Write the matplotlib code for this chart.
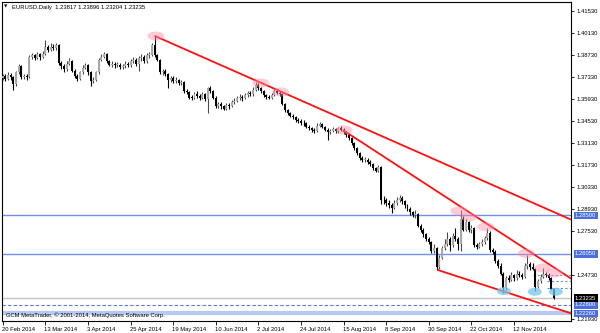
import matplotlib
matplotlib.use("Agg")
import matplotlib.pyplot as plt
from matplotlib.patches import Ellipse
import matplotlib.transforms as mtransforms

# ---------------- data ----------------
closes = [
 1.3735,1.3720,1.3745,1.3730,1.3685,1.3760,1.3800,1.3730,1.3735,1.3730,
 1.3860,1.3870,1.3855,1.3875,1.3860,1.3880,1.3920,1.3905,1.3925,1.3915,
 1.3935,1.3820,1.3800,1.3780,1.3815,1.3830,1.3770,1.3740,1.3720,1.3760,
 1.3790,1.3805,1.3760,1.3705,1.3715,1.3760,1.3840,1.3860,1.3875,1.3830,
 1.3810,1.3815,1.3805,1.3810,1.3795,1.3800,1.3815,1.3805,1.3830,1.3840,
 1.3815,1.3850,1.3860,1.3830,1.3870,1.3870,1.3935,1.3870,1.3840,1.3760,
 1.3770,1.3750,1.3710,1.3725,1.3705,1.3710,1.3690,1.3700,1.3640,1.3635,
 1.3600,1.3595,1.3625,1.3610,1.3595,1.3620,1.3590,1.3660,1.3640,1.3600,
 1.3545,1.3560,1.3545,1.3530,1.3555,1.3545,1.3570,1.3580,1.3595,1.3605,
 1.3595,1.3615,1.3630,1.3620,1.3650,1.3680,1.3660,1.3640,1.3615,1.3605,
 1.3600,1.3615,1.3640,1.3630,1.3620,1.3560,1.3520,1.3500,1.3485,1.3475,
 1.3455,1.3450,1.3440,1.3435,1.3415,1.3405,1.3395,1.3385,1.3420,1.3430,
 1.3415,1.3395,1.3380,1.3390,1.3400,1.3385,1.3405,1.3395,1.3380,1.3360,
 1.3340,1.3310,1.3280,1.3245,1.3215,1.3200,1.3205,1.3190,1.3175,1.3150,
 1.3135,1.3155,1.2950,1.2945,1.2930,1.2915,1.2900,1.2930,1.2950,1.2960,
 1.2940,1.2915,1.2890,1.2870,1.2850,1.2860,1.2785,1.2760,1.2730,1.2700,
 1.2680,1.2625,1.2645,1.2520,1.2580,1.2640,1.2665,1.2700,1.2660,1.2720,
 1.2700,1.2665,1.2830,1.2760,1.2805,1.2755,1.2770,1.2660,1.2650,1.2665,
 1.2680,1.2705,1.2740,1.2630,1.2620,1.2560,1.2530,1.2480,1.2385,1.2450,
 1.2440,1.2470,1.2450,1.2480,1.2470,1.2460,1.2530,1.2540,1.2520,1.2510,
 1.2395,1.2430,1.2460,1.2480,1.2470,1.2450,1.23817,1.23235]

highs = [
 1.3750,1.3748,1.3760,1.3755,1.3740,1.3772,1.3814,1.3808,1.3750,1.3748,
 1.3870,1.3885,1.3880,1.3888,1.3885,1.3895,1.3967,1.3935,1.3945,1.3940,
 1.3945,1.3940,1.3835,1.3812,1.3830,1.3850,1.3838,1.3780,1.3752,1.3770,
 1.3805,1.3818,1.3812,1.3768,1.3730,1.3772,1.3852,1.3875,1.3892,1.3882,
 1.3842,1.3830,1.3825,1.3828,1.3820,1.3815,1.3830,1.3825,1.3845,1.3858,
 1.3850,1.3865,1.3878,1.3870,1.3885,1.3890,1.3950,1.3993,1.3880,1.3845,
 1.3785,1.3780,1.3758,1.3740,1.3735,1.3728,1.3720,1.3715,1.3705,1.3655,
 1.3645,1.3615,1.3638,1.3640,1.3620,1.3635,1.3630,1.3669,1.3676,1.3648,
 1.3608,1.3575,1.3570,1.3555,1.3568,1.3565,1.3585,1.3598,1.3610,1.3620,
 1.3615,1.3630,1.3645,1.3640,1.3668,1.3700,1.3690,1.3670,1.3648,1.3625,
 1.3618,1.3630,1.3660,1.3655,1.3645,1.3628,1.3568,1.3528,1.3510,1.3495,
 1.3485,1.3470,1.3462,1.3455,1.3445,1.3428,1.3415,1.3405,1.3435,1.3445,
 1.3440,1.3422,1.3405,1.3402,1.3412,1.3408,1.3415,1.3420,1.3405,1.3390,
 1.3368,1.3348,1.3318,1.3288,1.3252,1.3228,1.3222,1.3215,1.3200,1.3185,
 1.3160,1.3170,1.3162,1.2975,1.2960,1.2945,1.2930,1.2948,1.2965,1.2978,
 1.2972,1.2950,1.2925,1.2902,1.2880,1.2885,1.2868,1.2795,1.2770,1.2740,
 1.2712,1.2690,1.2665,1.2650,1.2595,1.2655,1.2700,1.2745,1.2710,1.2735,
 1.2770,1.2710,1.2887,1.2845,1.2830,1.2815,1.2790,1.2778,1.2675,1.2680,
 1.2700,1.2720,1.2770,1.2748,1.2645,1.2628,1.2570,1.2545,1.2490,1.2465,
 1.2470,1.2490,1.2480,1.2500,1.2495,1.2485,1.2545,1.2600,1.2555,1.2545,
 1.2518,1.2445,1.2475,1.2518,1.2490,1.2482,1.2460,1.23896]

lows = [
 1.3710,1.3705,1.3712,1.3715,1.3648,1.3675,1.3750,1.3720,1.3718,1.3712,
 1.3725,1.3845,1.3840,1.3845,1.3842,1.3850,1.3870,1.3890,1.3895,1.3900,
 1.3905,1.3810,1.3785,1.3765,1.3770,1.3805,1.3760,1.3725,1.3705,1.3712,
 1.3750,1.3780,1.3745,1.3674,1.3690,1.3705,1.3752,1.3830,1.3850,1.3820,
 1.3798,1.3795,1.3790,1.3792,1.3780,1.3782,1.3790,1.3792,1.3795,1.3818,
 1.3800,1.3772,1.3835,1.3818,1.3822,1.3855,1.3862,1.3860,1.3830,1.3750,
 1.3745,1.3738,1.3662,1.3700,1.3690,1.3692,1.3680,1.3680,1.3630,1.3620,
 1.3590,1.3585,1.3588,1.3598,1.3585,1.3588,1.3580,1.3503,1.3630,1.3590,
 1.3535,1.3535,1.3530,1.3520,1.3522,1.3530,1.3538,1.3560,1.3570,1.3585,
 1.3580,1.3588,1.3605,1.3610,1.3612,1.3642,1.3650,1.3628,1.3605,1.3592,
 1.3590,1.3592,1.3608,1.3620,1.3610,1.3550,1.3510,1.3488,1.3475,1.3462,
 1.3445,1.3440,1.3428,1.3422,1.3405,1.3392,1.3382,1.3375,1.3378,1.3410,
 1.3405,1.3385,1.3333,1.3368,1.3378,1.3372,1.3375,1.3385,1.3370,1.3350,
 1.3328,1.3298,1.3268,1.3232,1.3205,1.3188,1.3190,1.3178,1.3162,1.3140,
 1.3125,1.3128,1.2920,1.2925,1.2910,1.2895,1.2865,1.2890,1.2915,1.2935,
 1.2925,1.2900,1.2875,1.2855,1.2838,1.2835,1.2775,1.2745,1.2715,1.2688,
 1.2665,1.2610,1.2612,1.2501,1.2510,1.2570,1.2630,1.2655,1.2625,1.2650,
 1.2690,1.2630,1.2624,1.2750,1.2750,1.2745,1.2740,1.2648,1.2635,1.2640,
 1.2655,1.2670,1.2695,1.2620,1.2605,1.2548,1.2515,1.2470,1.2358,1.2375,
 1.2425,1.2430,1.2435,1.2440,1.2455,1.2445,1.2450,1.2510,1.2505,1.2500,
 1.2370,1.2385,1.2420,1.2450,1.2455,1.2440,1.2375,1.23204]

first_open = 1.3725
last_open = 1.23817

date_labels = ["20 Feb 2014", "13 Mar 2014", "3 Apr 2014", "25 Apr 2014",
               "19 May 2014", "10 Jun 2014", "2 Jul 2014", "24 Jul 2014",
               "15 Aug 2014", "8 Sep 2014", "30 Sep 2014", "22 Oct 2014",
               "12 Nov 2014"]
bars_per_label = 16

price_ticks = [1.41530, 1.40130, 1.38730, 1.37330, 1.35930, 1.34530, 1.33130,
               1.31730, 1.30330, 1.28930, 1.27530, 1.24730, 1.21930]

# horizontal levels
level_lines = [1.28500, 1.26050]
support_band = 1.22260
dashed_level = 1.22800
bid_price = 1.23235
short_dotted = [(199, 1.24730), (204.5, 1.24300), (204.5, 1.23910)]

# trend lines: (start idx, start price, end idx, end price)
trend_lines = [(57.0, 1.39930, 213.7, 1.28210),
               (127.7, 1.33940, 213.7, 1.24450),
               (163.3, 1.25030, 213.7, 1.22250)]

pink_marks = [(57.5, 1.3992), (96.9, 1.3693), (104.4, 1.3636), (128.1, 1.3394),
              (171.3, 1.2878), (175.0, 1.2840), (181.4, 1.2777), (196.6, 1.2608),
              (202.8, 1.2515), (207.0, 1.2483)]
blue_marks = [(188.2, 1.2368), (199.8, 1.2364), (207.7, 1.2364)]

title = "EURUSD,Daily  1.23817 1.23896 1.23204 1.23235"
footer = "GCM MetaTrader, \u00a9 2001-2014, MetaQuotes Software Corp."

# ---------------- figure ----------------
W, H = 600, 333
fig = plt.figure(figsize=(W / 100, H / 100), dpi=100)
L, R, T, B = 2, 571, 2, 321
ax = fig.add_axes([L / W, 1 - B / H, (R - L) / W, (B - T) / H])
ax.set_facecolor("white")

FONT = "Liberation Sans"
FS = 4.2

n = len(closes)
opens = [first_open] + closes[:-1]
opens[-1] = last_open

for i in range(n):
    o, c, h, l = opens[i], closes[i], highs[i], lows[i]
    bull = c >= o
    col = "#a8a8a8" if bull else "#000000"
    wcol = "#4a4a4a" if bull else "#000000"
    ax.vlines(i, l, h, color=wcol, lw=0.8, zorder=3)
    bot = min(o, c)
    ht = max(abs(c - o), 0.0006)
    ax.bar(i, ht, bottom=bot, width=0.75, color=col, edgecolor="none", zorder=4)

# horizontal levels
for lv in level_lines:
    ax.axhline(lv, color="#7090e8", lw=1.0, zorder=2)
ax.axhline(support_band, color="#b8c8f2", lw=3.0, zorder=2)
ax.axhline(dashed_level, color="#5a78e0", lw=0.8, ls=(0, (3, 2)), zorder=2)
ax.axhline(bid_price, color="#c4c4c4", lw=1.0, zorder=2)
for x0, lv in short_dotted:
    ax.plot([x0, 220], [lv, lv], color="#6a88e6", lw=0.8, ls=(0, (2, 2)), zorder=2)

# trend lines
for x0, y0, x1, y1 in trend_lines:
    ax.plot([x0, x1], [y0, y1], color="#ff1010", lw=1.3, zorder=5,
            solid_capstyle="butt")

# marks
px_per_bar = 2.6625
px_per_unit = 1571.0
for x, y in pink_marks:
    ax.add_patch(Ellipse((x, y), 17 / px_per_bar, 9 / px_per_unit,
                         facecolor=(1.0, 0.55, 0.65, 0.45), edgecolor="none", zorder=6))
for x, y in blue_marks:
    ax.add_patch(Ellipse((x, y), 14 / px_per_bar, 8 / px_per_unit,
                         facecolor=(0.45, 0.78, 0.92, 0.75), edgecolor="none", zorder=6))

# limits
ax.set_xlim(-0.3, (R - L) / px_per_bar - 0.3)
ymax = 1.41530 + (10.7 - T) / px_per_unit
ymin = 1.41530 - (B - 10.7) / px_per_unit
ax.set_ylim(ymin, ymax)

# frame
for s in ax.spines.values():
    s.set_color("#000000")
    s.set_linewidth(0.8)

# x ticks
xt = [k * bars_per_label for k in range(len(date_labels))]
ax.set_xticks(xt)
ax.set_xticklabels(date_labels, fontsize=FS, family=FONT, ha="left")
ax.tick_params(axis="x", length=3, width=0.6, pad=1.5, direction="out")
for lab in ax.get_xticklabels():
    lab.set_transform(lab.get_transform() + mtransforms.ScaledTranslation(-1 / 100, 0, fig.dpi_scale_trans))

# y ticks on right
ax.yaxis.tick_right()
ax.set_yticks(price_ticks)
ax.set_yticklabels([f"{p:.5f}" for p in price_ticks], fontsize=FS, family=FONT)
ax.tick_params(axis="y", length=2.5, width=0.6, pad=1.2, direction="out")

# right-side price boxes
trans = mtransforms.blended_transform_factory(ax.transAxes, ax.transData)
def price_box(val, fc):
    ax.text(1.0 + 4 / (R - L), val, f"{val:.5f}", transform=trans, fontsize=FS,
            family=FONT, color="white", va="center", ha="left", zorder=10,
            clip_on=False,
            bbox=dict(boxstyle="square,pad=0.22", facecolor=fc, edgecolor="none"))
for lv in level_lines + [dashed_level, support_band]:
    price_box(lv, "#4b6fdc")
price_box(bid_price, "#000000")

# title and footer
fig.text(4 / W, 1 - 7 / H, "\u25bc", fontsize=3.2, family="DejaVu Sans", va="center", ha="left")
fig.text(12 / W, 1 - 7 / H, title, fontsize=FS, family=FONT, va="center", ha="left")
ax.text(4 / (R - L), (B - 315) / (B - T), footer, transform=ax.transAxes,
        fontsize=FS, family=FONT, va="center", ha="left", zorder=8)

fig.savefig("out.png", dpi=100)
